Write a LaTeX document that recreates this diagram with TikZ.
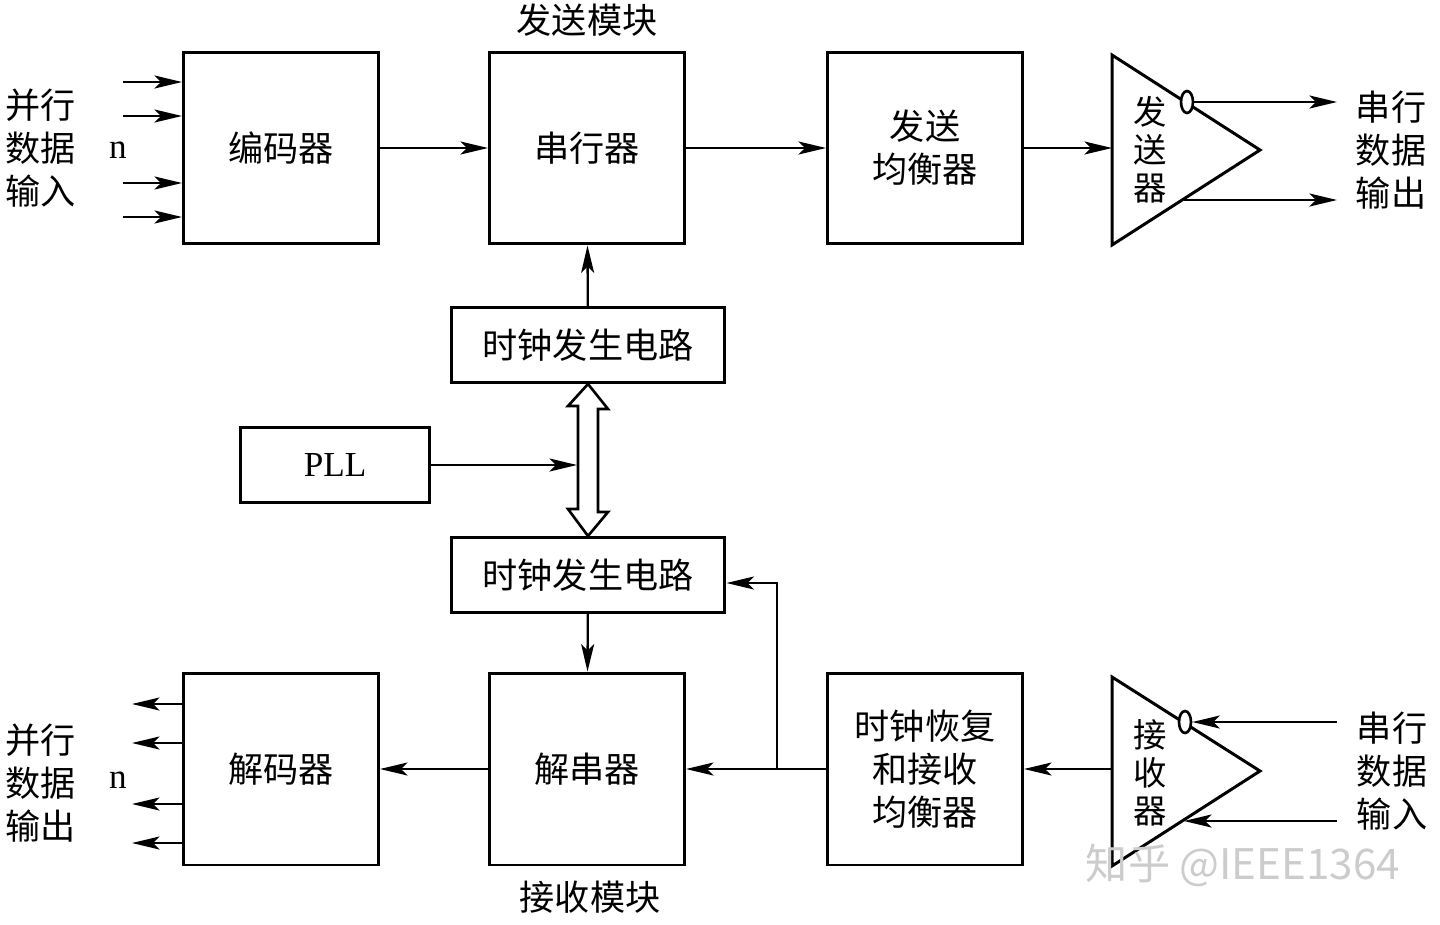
\documentclass[tikz,border=0pt]{standalone}
\usepackage{fontspec}
\setmainfont{Liberation Serif}
\newfontfamily\cjk{Noto Sans CJK SC}
\usetikzlibrary{arrows.meta,positioning,shapes.geometric}

\begin{document}
\begin{tikzpicture}[x=0.02cm,y=-0.02cm]
  \tikzstyle{blk}=[draw,line width=1.7pt,minimum width=3.9cm,minimum height=3.84cm,inner sep=0pt,align=center,font=\cjk\fontsize{20}{24.5}\selectfont]
  \tikzstyle{clk}=[blk,minimum width=5.48cm,minimum height=1.5cm]
  \tikzstyle{sig}=[-{Stealth[length=5.5mm,width=2.6mm,inset=1.3mm]},line width=1.3pt]
  \tikzstyle{lbl}=[align=center,inner sep=0pt,font=\cjk\fontsize{20}{24.5}\selectfont]
  \tikzstyle{bub}=[draw,ellipse,line width=1.5pt,fill=white,minimum width=0.24cm,minimum height=0.44cm,inner sep=0pt]
  \useasboundingbox (0,0) rectangle (1440,924);

  % transmit side
  \node[blk] (enc) at (281,148) {编码器};
  \node[blk] (ser) at (587,148) {串行器};
  \node[blk] (teq) at (925,148) {发送\\均衡器};
  \node[lbl] (tmod) at (587,20) {发送模块};
  \draw[line width=1.7pt] (1112,55) -- (1260,150) -- (1112,245) -- cycle;
  \coordinate (tx) at (1112,148);
  \node[lbl,font=\cjk\fontsize{19}{21.5}\selectfont] (txl) at (1150,150) {发\\送\\器};
  \node[bub] (txo) at (1187,102) {};
  \coordinate (txo2) at (1184,200);
  \coordinate (so1) at (1337,102);
  \coordinate (so2) at (1337,200);
  \node[lbl] (sout) at (1391,150) {串行\\数据\\输出};

  % clocks
  \node[clk] (clkt) at (588,345) {时钟发生电路};
  \node[blk,minimum width=3.78cm,minimum height=1.5cm,font=\fontsize{20}{24}\selectfont] (pll) at (335,465) {PLL};
  \node[clk] (clkb) at (588,575) {时钟发生电路};
  \coordinate (pllin) at (577,465);

  % receive side
  \node[blk] (dec) at (281,769) {解码器};
  \node[blk] (des) at (587,769) {解串器};
  \node[blk] (req) at (925,769) {时钟恢复\\和接收\\均衡器};
  \node[lbl] (rmod) at (590,897) {接收模块};
  \draw[line width=1.7pt] (1112,677) -- (1260,771) -- (1112,866) -- cycle;
  \coordinate (rx) at (1112,769);
  \node[lbl,font=\cjk\fontsize{19}{21.5}\selectfont] (rxl) at (1150,773) {接\\收\\器};
  \node[bub] (rxo) at (1185,722) {};
  \coordinate (rxo2) at (1184,821);
  \coordinate (si1) at (1337,722);
  \coordinate (si2) at (1337,821);
  \node[lbl] (sin) at (1392,771) {串行\\数据\\输入};

  % parallel ports
  \node[lbl] (pin) at (41,148) {并行\\数据\\输入};
  \node[font=\fontsize{20}{24}\selectfont] (n1) at (118,150) {n};
  \node[lbl] (pout) at (41,783) {并行\\数据\\输出};
  \node[font=\fontsize{20}{24}\selectfont] (n2) at (118,780) {n};
  \foreach \i/\y in {1/82,2/116,3/183,4/217} {
    \coordinate (in\i) at (123,\y);
    \draw[sig] (in\i) -- (enc.west |- in\i);
  }
  \foreach \i/\y in {1/704,2/743,3/804,4/843} {
    \coordinate (out\i) at (132,\y);
    \draw[sig] (dec.west |- out\i) -- (out\i);
  }

  % data path
  \draw[sig] (enc) -- (ser);
  \draw[sig] (ser) -- (teq);
  \draw[sig] (teq) -- (tx);
  \draw[sig] (txo.east) -- (so1);
  \draw[sig] (txo2) -- (so2);
  \draw[sig] (clkt) -- (ser);
  \draw[sig] (pll) -- (pllin);
  \draw[line width=1.5pt,fill=white] (clkt.south) -- ++(20,25) -- ++(-10,0) -- ++(0,103)
    -- ++(10,0) -- (clkb.north) -- ++(-20,-27) -- ++(10,0) -- ++(0,-103) -- ++(-10,0) -- cycle;
  \draw[sig] (clkb) -- (des);
  \draw[sig] (si1) -- (rxo.east);
  \draw[sig] (si2) -- (rxo2);
  \draw[sig] (rx) -- (req);
  \draw[sig] (req) -- (des);
  \coordinate (br) at (777,769);
  \draw[sig] (br) |- ([yshift=-1.6mm]clkb.east);
  \draw[sig] (des) -- (dec);

  \node[text=gray!40,font=\cjk\fontsize{24}{24}\selectfont] (wm) at (1243,865) {知乎 @IEEE1364};
\end{tikzpicture}
\end{document}
